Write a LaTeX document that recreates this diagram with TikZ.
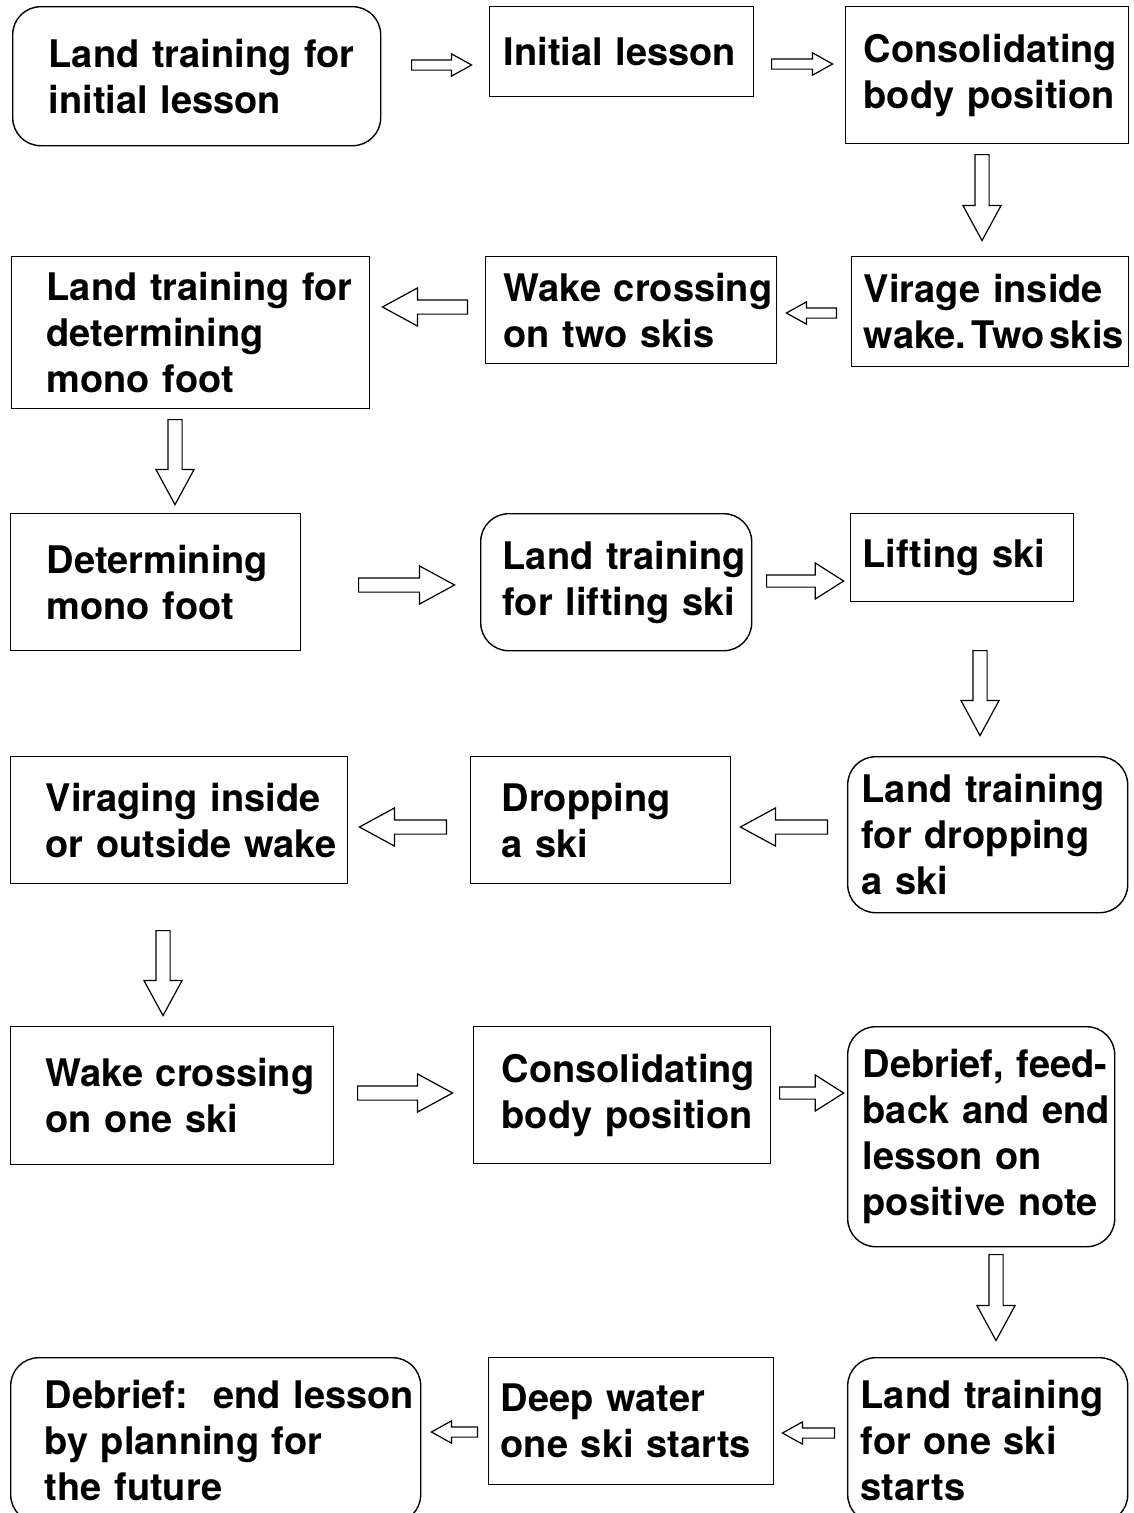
\documentclass[tikz,border=0pt]{standalone}
\usepackage{fontspec}
\setmainfont{TeX Gyre Heros}
\usetikzlibrary{shapes.arrows,positioning}
\frenchspacing

\tikzset{
  stepbox/.style={draw, line width=1.4pt, anchor=north west, inner xsep=0pt, inner ysep=0pt,
    align=left, font=\fontsize{38}{46}\selectfont\bfseries},
  roundbox/.style={stepbox, rounded corners=28pt},
  pad/.style={execute at begin node={\leftskip=#1pt\rightskip=0pt plus 1fil minus 200pt}},
  blockarrow/.style={single arrow, draw, line width=1.2pt, anchor=tail, inner xsep=0pt,
    minimum width=0pt},
  smallarrow/.style={blockarrow, inner ysep=4.5pt, single arrow head extend=6pt,
    single arrow tip angle=58},
  midarrow/.style={blockarrow, inner ysep=5.5pt, single arrow head extend=12pt,
    single arrow tip angle=65},
  bigarrow/.style={blockarrow, inner ysep=6.5pt, single arrow head extend=12pt,
    single arrow tip angle=57},
  pointleft/.style={shape border rotate=180},
  pointdown/.style={shape border rotate=270, inner xsep=6.5pt, inner ysep=0pt}
}

\begin{document}
\begin{tikzpicture}[x=1pt, y=-1pt]
  \useasboundingbox (0,0) rectangle (1134,1513);

  % Define nodes
  \node[roundbox, text width=368pt, minimum height=139pt, pad=36] (landinit) at (12,6) {Land training for\\initial lesson};
  \node[stepbox, text width=264pt, minimum height=90pt, pad=14] (initlesson) at (489,6) {Initial lesson};
  \node[stepbox, text width=283pt, minimum height=137pt, pad=18] (consolA) at (845,6) {Consolidating\\body position};

  \node[stepbox, text width=277pt, minimum height=110pt, pad=12] (virage) at (851,256) {Virage inside\\wake.\hspace{0.14em}Two\hspace{0.14em}skis};
  \node[stepbox, text width=291pt, minimum height=107pt, pad=18] (waketwo) at (485,256) {Wake crossing\\on two skis};
  \node[stepbox, text width=358pt, minimum height=152pt, pad=35] (landmono) at (11,256) {Land training for\\determining\\mono foot};

  \node[stepbox, text width=290pt, minimum height=137pt, pad=36] (monofoot) at (10,513) {Determining\\mono foot};
  \node[roundbox, text width=271pt, minimum height=137pt, pad=22] (landlift) at (480,513) {Land training\\for lifting ski};
  \node[stepbox, text width=223pt, minimum height=88pt, pad=12] (lifting) at (850,513) {Lifting ski};

  \node[roundbox, text width=280pt, minimum height=156pt, pad=14] (landdrop) at (847,756) {Land training\\for dropping\\a ski};
  \node[stepbox, text width=260pt, minimum height=127pt, pad=31] (dropping) at (470,756) {Dropping\\a ski};
  \node[stepbox, text width=337pt, minimum height=127pt, pad=35] (viraging) at (10,756) {Viraging inside\\or outside wake};

  \node[stepbox, text width=323pt, minimum height=138pt, pad=35] (wakeone) at (10,1026) {Wake crossing\\on one ski};
  \node[stepbox, text width=297pt, minimum height=137pt, pad=28] (consolB) at (473,1026) {Consolidating\\body position};
  \node[roundbox, text width=267pt, minimum height=220pt, pad=15] (debriefA) at (847,1026) {Debrief, feed-\\back and end\\lesson on\\positive note};

  \node[roundbox, text width=280pt, minimum height=165pt, pad=13] (landone) at (847,1357) {Land training\\for one ski\\starts};
  \node[stepbox, text width=285pt, minimum height=127pt, pad=12] (deepwater) at (488,1357) {Deep water\\one ski starts};
  \node[roundbox, text width=410pt, minimum height=165pt, pad=34] (debriefB) at (10,1357) {Debrief:~ end lesson\\by planning for\\the future};

  % Draw arrows
  \node[smallarrow, minimum height=60pt] (a1) at (411,65) {};
  \node[smallarrow, minimum height=61pt] (a2) at (771,64) {};
  \node[bigarrow, pointdown, minimum height=86pt] (a3) at (982,154) {};
  \node[smallarrow, pointleft, minimum height=50pt] (a4) at (837,313) {};
  \node[bigarrow, pointleft, minimum height=85pt] (a5) at (468,307) {};
  \node[bigarrow, pointdown, minimum height=85pt] (a6) at (175,419) {};
  \node[bigarrow, minimum height=96pt] (a7) at (358,585) {};
  \node[midarrow, minimum height=77pt] (a8) at (766,581) {};
  \node[bigarrow, pointdown, minimum height=85pt] (a9) at (980,650) {};
  \node[bigarrow, pointleft, minimum height=87pt] (a10) at (828,827) {};
  \node[bigarrow, pointleft, minimum height=87pt] (a11) at (447,827) {};
  \node[bigarrow, pointdown, minimum height=85pt] (a12) at (163,930) {};
  \node[bigarrow, minimum height=95pt] (a13) at (357,1093) {};
  \node[midarrow, minimum height=64pt] (a14) at (779,1093) {};
  \node[bigarrow, pointdown, minimum height=86pt] (a15) at (996,1254) {};
  \node[smallarrow, pointleft, minimum height=52pt] (a16) at (835,1433) {};
  \node[smallarrow, pointleft, minimum height=46pt] (a17) at (478,1432) {};
\end{tikzpicture}
\end{document}
